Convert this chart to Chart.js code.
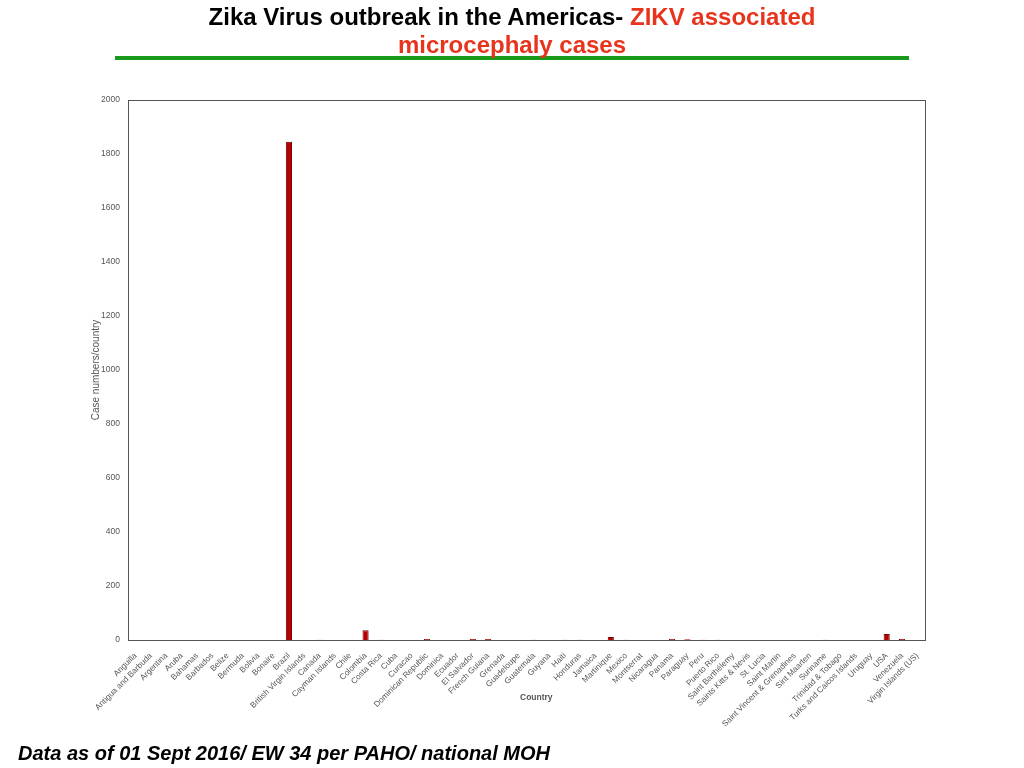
<!DOCTYPE html>
<html lang="en">
<head>
    <meta charset="UTF-8">
    <title>Zika Virus outbreak in the Americas - microcephaly cases</title>
    <style>
        body {
            margin: 0;
            width: 1024px;
            height: 768px;
            position: relative;
            overflow: hidden;
            background: #fff;
            font-family: "Liberation Sans", Arial, sans-serif;
        }
        .title {
            position: absolute;
            left: 0;
            top: 3px;
            width: 1024px;
            text-align: center;
            font-weight: bold;
            font-size: 24px;
            line-height: 28px;
            color: #000;
            z-index: 2;
        }
        .title .red { color: #e8341c; }
        .rule {
            position: absolute;
            left: 115px;
            top: 56px;
            width: 794px;
            height: 4px;
            background: #1a9a1a;
        }
        .footer {
            position: absolute;
            left: 18px;
            top: 742px;
            font-weight: bold;
            font-style: italic;
            font-size: 20px;
            color: #000;
        }
        .xtitle {
            position: absolute;
            left: 520px;
            top: 692px;
            font-size: 8.5px;
            font-weight: bold;
            color: #555;
        }
        #chart {
            position: absolute;
            left: 0;
            top: 0;
        }
    </style>
    <script src="https://cdn.jsdelivr.net/npm/chart.js"></script>
</head>
<body>
    <div class="title">Zika Virus outbreak in the Americas- <span class="red">ZIKV associated<br>microcephaly cases</span></div>
    <div class="rule"></div>
    <canvas id="chart" width="1024" height="768"></canvas>
    <div class="xtitle">Country</div>
    <div class="footer">Data as of 01 Sept 2016/ EW 34 per PAHO/ national MOH</div>

    <script>
        // countries on the x axis
        const countries = [
            "Anguilla", "Antigua and Barbuda", "Argentina", "Aruba", "Bahamas", "Barbados",
            "Belize", "Bermuda", "Bolivia", "Bonaire", "Brazil", "British Virgin Islands",
            "Canada", "Cayman Islands", "Chile", "Colombia", "Costa Rica", "Cuba", "Curacao",
            "Dominican Republic", "Dominica", "Ecuador", "El Salvador", "French Guiana",
            "Grenada", "Guadeloupe", "Guatemala", "Guyana", "Haiti", "Honduras", "Jamaica",
            "Martinique", "Mexico", "Montserrat", "Nicaragua", "Panama", "Paraguay", "Peru",
            "Puerto Rico", "Saint Barthélemy", "Saints Kitts & Nevis", "St. Lucia", "Saint Martin",
            "Saint Vincent & Grenadines", "Sint Maarten", "Suriname", "Trinidad & Tobago",
            "Turks and Caicos Islands", "Uruguay", "USA", "Venezuela", "Virgin Islands (US)"
        ];

        // confirmed ZIKV associated microcephaly cases
        const cases = [
            0, 0, 0, 0, 0, 0,
            0, 0, 0, 0, 1845, 0,
            1, 0, 0, 36, 1, 0, 0,
            4, 0, 0, 4, 4,
            0, 0, 1, 0, 1, 1, 0,
            11, 1, 0, 0, 4, 3, 1,
            1, 0, 0, 0, 0,
            0, 0, 1, 0,
            0, 0, 22, 4, 0
        ];

        // y axis
        const yMin = 0;
        const yMax = 2000;
        const yStep = 200;

        // full box around the plot area
        const frame = {
            id: 'frame',
            afterDraw(chart) {
                const a = chart.chartArea;
                const c = chart.ctx;
                c.save();
                c.strokeStyle = '#555';
                c.lineWidth = 1;
                c.strokeRect(a.left + 0.5, a.top + 0.5, a.right - a.left, a.bottom - a.top);
                c.restore();
            }
        };

        new Chart(document.getElementById('chart'), {
            type: 'bar',
            data: {
                labels: countries,
                datasets: [{
                    label: 'Cases',
                    data: cases,
                    backgroundColor: '#b40000',
                    borderColor: '#7a0000',
                    borderWidth: 1,
                    barPercentage: 0.4,
                    categoryPercentage: 1
                }]
            },
            options: {
                responsive: false,
                animation: false,
                layout: { padding: { left: 90, top: 100, right: 99, bottom: 0 } },
                plugins: {
                    legend: { display: false },
                    tooltip: { enabled: false }
                },
                scales: {
                    x: {
                        grid: { display: false },
                        border: { display: false },
                        ticks: {
                            autoSkip: false,
                            minRotation: 45,
                            maxRotation: 45,
                            color: '#555',
                            padding: 3,
                            font: { family: 'Liberation Sans', size: 8.2 }
                        },
                        afterFit(scale) { scale.height = 128; }
                    },
                    y: {
                        min: yMin,
                        max: yMax,
                        grid: { display: false },
                        border: { display: false },
                        ticks: {
                            stepSize: yStep,
                            color: '#555',
                            padding: 0,
                            font: { family: 'Liberation Sans', size: 8.5 },
                            callback: (v) => String(v)
                        },
                        title: {
                            display: true,
                            text: 'Case numbers/country',
                            color: '#555',
                            padding: 0,
                            font: { family: 'Liberation Sans', size: 10 }
                        },
                        afterFit(scale) { scale.width = 38; }
                    }
                }
            },
            plugins: [frame]
        });
    </script>
</body>
</html>
